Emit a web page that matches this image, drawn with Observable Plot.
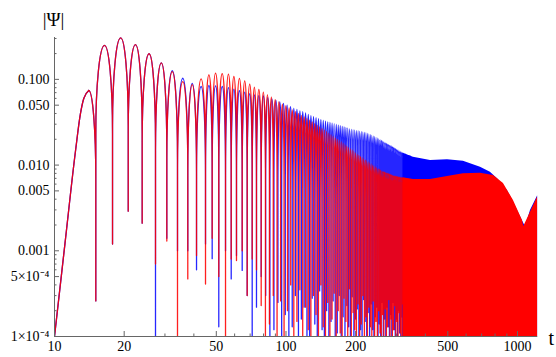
<!DOCTYPE html>
<html><head><meta charset="utf-8">
<script src="https://cdn.jsdelivr.net/npm/d3@7"></script>
<script src="https://cdn.jsdelivr.net/npm/@observablehq/plot@0.6"></script>
<style>body{margin:0;background:#fff}#chart svg{display:block}</style>
</head><body><div id="chart"></div>
<script>
// ---- axis definitions ----
const xDomain = [10, 1224];
const yDomain = [1e-4, 0.308];
const xMajor = [10, 20, 50, 100, 200, 500, 1000];
const xLabels = ["10", "20", "50", "100", "200", "500", "1000"];
const xMinor = [30, 40, 60, 70, 80, 90, 300, 400, 600, 700, 800, 900];
const yMajor = [1e-4, 5e-4, 1e-3, 5e-3, 0.01, 0.05, 0.1];
const yLabels = ["1×10⁻⁴", "5×10⁻⁴", "0.001", "0.005", "0.010", "0.050", "0.100"];
const yMinor = [2e-4, 3e-4, 4e-4, 6e-4, 7e-4, 8e-4, 9e-4, 2e-3, 3e-3, 4e-3, 6e-3, 7e-3, 8e-3, 9e-3,
                0.02, 0.03, 0.04, 0.06, 0.07, 0.08, 0.09, 0.2, 0.3];

// ---- initial rise (both curves) ----
const riseT = [10, 11.1, 12.33, 12.95, 13.38, 14.06];
const riseV = [1e-4, 1.22e-3, 0.0148, 0.040, 0.0598, 0.0742];

// ---- oscillation nodes (dips) of the red curve ----
const redDipT = [15.08, 17.81, 20.82, 23.92, 27.31, 30.56, 33.99, 37.65, 41.07, 44.91, 47.99, 51.25, 54.8, 57.99,
  61.12, 64.69, 67.98, 71.45, 74.57, 78.14, 81.5, 84.8, 88.1, 91.5, 94.8, 98.1, 101.5, 104.8, 108.1, 111.5,
  114.8, 118.1, 121.5, 124.8, 128.1, 131.5, 134.8, 138.1, 141.5, 144.8, 148.1, 151.5, 154.8, 158.1, 161.5,
  164.8, 168.1, 171.5, 174.8, 178.1, 181.5, 184.8, 188.1, 191.5, 194.8, 198.1, 201.5, 204.8, 208.1, 211.5,
  214.8, 218.1, 221.5, 224.8, 228.1, 231.5, 234.8, 238.1, 241.5, 244.8, 248.1, 251.5, 254.8, 258.1, 261.5, 264.8,
  268.1, 271.5, 274.8, 278.1, 281.5, 284.8, 288.1, 291.5, 294.8, 298.1, 301.5, 304.8, 308.1, 311.5, 314.8,
  318.1, 321.5, 324.8, 328.1, 331.5, 334.8, 338.1, 341.5, 344.8];
// blue nodes drift out of phase with the red ones after t ≈ 80
const blueDipT = [15.08, 17.81, 20.82, 23.92, 27.31, 30.56, 33.99, 37.65, 41.07, 44.91, 47.99, 51.25, 54.8, 57.99,
  61.12, 64.69, 67.98, 71.45, 74.57, 78.14, 81.7, 85.2, 88.7, 92.3, 95.8, 99.3, 102.9, 106.4, 109.8, 113.2,
  116.5, 119.8, 123.2, 126.5, 129.8, 133.2, 136.5, 139.8, 143.2, 146.5, 149.8, 153.2, 156.5, 159.8, 163.2,
  166.5, 169.8, 173.2, 176.5, 179.8, 183.2, 186.5, 189.8, 193.2, 196.5, 199.8, 203.2, 206.5, 209.8, 213.2,
  216.5, 219.8, 223.2, 226.5, 229.8, 233.2, 236.5, 239.8, 243.2, 246.5, 249.8, 253.2, 256.5, 259.8, 263.2, 266.5,
  269.8, 273.2, 276.5, 279.8, 283.2, 286.5, 289.8, 293.2, 296.5, 299.8, 303.2, 306.5, 309.8, 313.2, 316.5,
  319.8, 323.2, 326.5, 329.8, 333.2, 336.5, 339.8, 343.2, 346.5];

// peak of each lobe between consecutive nodes
const redPeak = [0.249, 0.305, 0.255, 0.199, 0.156, 0.123, 0.094, 0.087, 0.1016, 0.113, 0.118, 0.117, 0.115,
  0.108, 0.1025, 0.0959, 0.088, 0.0811, 0.0762,
  0.071, 0.066, 0.062, 0.058, 0.0545, 0.0515, 0.049, 0.0465, 0.044, 0.042, 0.040, 0.038, 0.0365, 0.035, 0.0335,
  0.032, 0.0305, 0.029, 0.0278, 0.0266, 0.0255, 0.0245, 0.0235, 0.0225, 0.0216, 0.0208, 0.0200, 0.0193, 0.0186,
  0.0179, 0.0172, 0.0166, 0.0160, 0.0154, 0.0149, 0.0144, 0.0139, 0.0134, 0.0130, 0.0126, 0.0122, 0.0118,
  0.0115, 0.0112, 0.0109, 0.0106, 0.0103, 0.0100, 0.0098, 0.0095, 0.0093, 0.0091, 0.0089, 0.0087, 0.0085, 0.0084,
  0.0083, 0.0082, 0.0081, 0.0080, 0.0079, 0.0078, 0.0077, 0.0076, 0.0075, 0.0075, 0.0074, 0.0074, 0.0073,
  0.0073, 0.0072, 0.0072, 0.0071, 0.0071, 0.0070, 0.0070, 0.0069, 0.0069, 0.0068, 0.0068];
const bluePeak = [0.249, 0.305, 0.255, 0.199, 0.156, 0.126, 0.103, 0.090, 0.0826, 0.0848, 0.084, 0.0826, 0.080,
  0.0768, 0.0737, 0.0710, 0.068, 0.0661, 0.0644,
  0.064, 0.061, 0.059, 0.057, 0.0545, 0.0525, 0.050, 0.048, 0.046, 0.0445, 0.043, 0.042, 0.0405, 0.039, 0.0378,
  0.0368, 0.0358, 0.0348, 0.034, 0.0332, 0.0326, 0.032, 0.0314, 0.0308, 0.0303, 0.0298, 0.0293, 0.0288, 0.0283,
  0.0278, 0.0274, 0.0270, 0.0265, 0.0261, 0.0258, 0.0255, 0.0252, 0.0250, 0.0247, 0.0245, 0.0243, 0.0241,
  0.0238, 0.0234, 0.0230, 0.0226, 0.0222, 0.0218, 0.0214, 0.0210, 0.0206, 0.0202, 0.0198, 0.0194, 0.0190, 0.0186,
  0.0182, 0.0179, 0.0176, 0.0173, 0.0170, 0.0167, 0.0164, 0.0161, 0.0158, 0.0155, 0.0152, 0.0149, 0.0146,
  0.0144, 0.0142, 0.0140, 0.0138, 0.0136, 0.0134, 0.0132, 0.0130, 0.0129, 0.0128, 0.0127];

// depth reached at each node
const redDip = [2.6e-4, 1.2e-3, 2.9e-3, 2.1e-3, 7e-4, 1.3e-3, 1e-6, 4.7e-4, 8.8e-4, 4.1e-4, 1.4e-3, 5e-4, 1e-6,
  8e-4, 7.7e-4, 1.0e-3, 3e-4, 8e-4, 6e-4, 2.3e-4,
  1e-6, 1.4e-4, 3e-4, 1e-6, 2.6e-4, 1e-6, 2e-4, 4e-4, 1e-6, 1.5e-4, 3.5e-4, 1e-6, 2.2e-4, 1.2e-4, 1e-6, 3e-4,
  1.8e-4, 1e-6, 4e-4, 1.3e-4, 1e-6, 2.5e-4, 1e-6, 1.6e-4, 3.2e-4, 1e-6, 2e-4, 1.1e-4, 1e-6, 2.8e-4, 1.5e-4,
  1e-6, 3.6e-4, 1e-6, 1.9e-4, 1.2e-4, 1e-6, 2.4e-4, 1e-6, 1.4e-4, 3e-4, 1e-6, 1.7e-4, 1e-6, 2.2e-4, 1.3e-4,
  1e-6, 2.6e-4, 1e-6, 1.5e-4, 1e-6, 2e-4, 1.1e-4, 1e-6, 1.8e-4, 1e-6,
  2.1e-4, 1e-6, 1.3e-4, 2.7e-4, 1e-6, 1.6e-4, 1e-6, 1.2e-4, 2.3e-4, 1e-6, 1.5e-4, 1e-6, 1.9e-4, 1.1e-4, 1e-6,
  2.4e-4, 1e-6, 1.4e-4, 1e-6, 1.8e-4, 1.2e-4, 1e-6, 2e-4, 1e-6];
const blueDip = [2.6e-4, 1.2e-3, 2.9e-3, 2.1e-3, 1e-6, 1.4e-3, 1e-3, 1.0e-3, 6e-4, 1.2e-3, 8.1e-4, 1.3e-4, 1e-3,
  4.7e-4, 8.8e-4, 5.9e-4, 3e-4, 1e-6, 2.2e-4, 5e-4,
  3e-4, 1e-6, 1.2e-4, 2.5e-4, 1e-6, 1.8e-4, 1e-6, 1.3e-4, 3e-4, 1e-6, 1.6e-4, 2.2e-4, 1e-6, 1e-6, 2.8e-4,
  1.4e-4, 1e-6, 3.4e-4, 1.2e-4, 1e-6, 2e-4, 1e-6, 1.5e-4, 2.6e-4, 1e-6, 1.1e-4, 3e-4, 1e-6, 1.7e-4, 1e-6,
  2.3e-4, 1.3e-4, 1e-6, 2.9e-4, 1e-6, 1.6e-4, 2.1e-4, 1e-6, 1.2e-4, 1e-6, 2.7e-4, 1.5e-4, 1e-6, 1.9e-4, 1e-6,
  2.4e-4, 1.2e-4, 1e-6, 1.7e-4, 2.2e-4, 1e-6, 1.4e-4, 1e-6, 2.5e-4, 1e-6, 1.6e-4,
  1e-6, 2.2e-4, 1.3e-4, 1e-6, 1.8e-4, 1e-6, 2.5e-4, 1.2e-4, 1e-6, 1.6e-4, 1e-6, 2e-4, 1.1e-4, 1e-6, 1.7e-4,
  1e-6, 2.3e-4, 1.3e-4, 1e-6, 1.5e-4, 1e-6, 1.9e-4, 1e-6, 1.2e-4];

// ---- envelopes of the unresolved (dense) part ----
const redEnvT = [320, 355, 421, 498.5, 584, 692, 788, 870, 961, 1051, 1065, 1138, 1224];
const redEnvV = [0.0071, 0.00679, 0.00679, 0.00736, 0.00791, 0.00804, 0.00756, 0.0061, 0.00386,
  0.00226, 0.00192, 0.00282, 0.0043];
const blueEnvT = [320, 355, 421, 498.5, 584, 692, 764, 820, 905, 1000, 1083, 1138, 1224];
const blueEnvV = [0.0137, 0.01237, 0.01132, 0.01153, 0.01111, 0.00945, 0.00826, 0.00692, 0.00505,
  0.00295, 0.00189, 0.00295, 0.00442];

// ---- tables ----
const rise = riseT.map((t, i) => ({t, v: riseV[i]}));
function lobes(dipT, peaks, dips) {
  const rows = [rise[rise.length - 1]];
  dipT.forEach((t, i) => {
    rows.push({t, v: dips[i]});
    if (i < peaks.length) rows.push({t: (t + dipT[i + 1]) / 2, v: peaks[i]});
  });
  return rows;
}
const redLobes = lobes(redDipT, redPeak, redDip);
const blueLobes = lobes(blueDipT, bluePeak, blueDip);
const redEnv = redEnvT.map((t, i) => ({t, v: redEnvV[i]}));
const blueEnv = blueEnvT.map((t, i) => ({t, v: blueEnvV[i]}));
const xLabelMap = new Map(xMajor.map((d, i) => [d, xLabels[i]]));

// curve: rounded cap at each peak, sharp vertical cusp at each node
function lobeCurve(context) {
  let px, py, n;
  const K = 0.55, H = 88;
  return {
    areaStart() {}, areaEnd() {},
    lineStart() { n = 0; },
    lineEnd() {},
    point(x, y) {
      x = +x; y = +y;
      if (n === 0) context.moveTo(x, y);
      else {
        const dx = x - px;
        if (y > py) {
          const h = Math.min(H, y - py);
          context.bezierCurveTo(px + K * dx, py, x, py + h * (1 - K), x, py + h);
          if (y > py + h) context.lineTo(x, y);
        } else {
          const h = Math.min(H, py - y);
          if (py > y + h) context.lineTo(px, y + h);
          context.bezierCurveTo(px, y + h * (1 - K), x - K * dx, y, x, y);
        }
      }
      px = x; py = y; n++;
    }
  };
}

const RED = "#ff0000", BLUE = "#0000ff", AXIS = "#666";
const FONT = "'Liberation Serif', 'Times New Roman', serif";
const chart = Plot.plot({
  width: 556, height: 357,
  marginLeft: 54, marginRight: 18.7, marginTop: 37, marginBottom: 21,
  x: {type: "log", domain: xDomain},
  y: {type: "log", domain: yDomain},
  style: {fontFamily: FONT, fontSize: "14px", background: "#fff", color: "#000"},
  marks: [
    Plot.line(blueLobes, {x: "t", y: "v", stroke: BLUE, strokeWidth: 1.3, strokeOpacity: 0.85, curve: lobeCurve, clip: true}),
    Plot.areaY(blueEnv, {x: "t", y1: yDomain[0], y2: "v", fill: BLUE, clip: true}),
    Plot.line(rise, {x: "t", y: "v", stroke: BLUE, strokeWidth: 1.3, curve: "monotone-x", clip: true}),
    Plot.line(redLobes, {x: "t", y: "v", stroke: RED, strokeWidth: 1.3, strokeOpacity: 0.88, curve: lobeCurve, clip: true}),
    Plot.areaY(redEnv, {x: "t", y1: yDomain[0], y2: "v", fill: RED, clip: true}),
    Plot.line(rise, {x: "t", y: "v", stroke: RED, strokeWidth: 1.3, strokeOpacity: 0.9, curve: "monotone-x", clip: true}),
    Plot.ruleX([xDomain[0]], {stroke: AXIS}),
    Plot.ruleY([yDomain[0]], {stroke: AXIS}),
    Plot.axisX({ticks: xMajor, tickSize: -5, fill: "none", stroke: AXIS, label: null}),
    Plot.axisX({ticks: xMinor, tickSize: -2.5, fill: "none", stroke: AXIS, label: null}),
    Plot.axisX({ticks: xMajor, tickSize: 0, tickPadding: 5, tickFormat: d => xLabelMap.get(d), label: null, fontSize: 14, fontFamily: FONT}),
    Plot.axisY({ticks: yMajor, tickSize: -5, fill: "none", stroke: AXIS, label: null}),
    Plot.axisY({ticks: yMinor, tickSize: -2.5, fill: "none", stroke: AXIS, label: null}),
    Plot.text(yMajor, {y: d => d, text: (d, i) => yLabels[i], frameAnchor: "left", textAnchor: "end", dx: -5, fontSize: 14, fontFamily: FONT}),
    Plot.text(["|Ψ|"], {frameAnchor: "top-left", dx: -1, dy: -17.5, fontSize: 19, fontFamily: FONT, textAnchor: "middle", lineAnchor: "middle"}),
    Plot.text(["t"], {frameAnchor: "bottom-right", dx: 10.7, dy: 2.5, fontSize: 20, fontFamily: FONT, textAnchor: "start", lineAnchor: "middle"})
  ]
});
document.getElementById("chart").append(chart);
</script></body></html>
